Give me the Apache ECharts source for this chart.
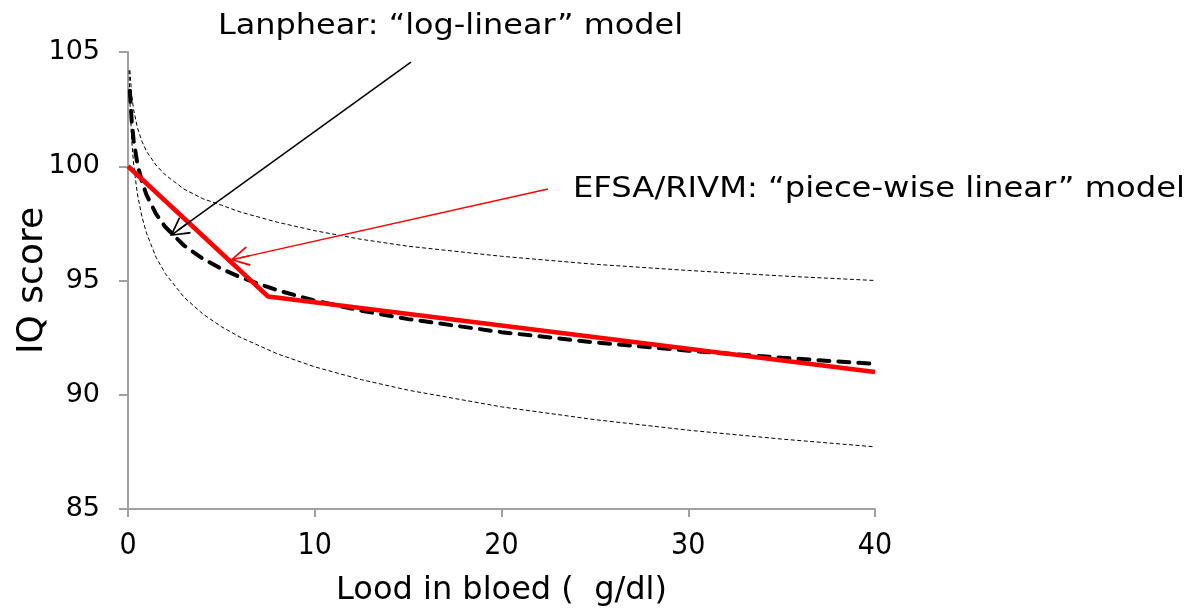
<!DOCTYPE html>
<html>
<head>
<meta charset="utf-8">
<script src="https://cdn.jsdelivr.net/npm/echarts@6/dist/echarts.min.js"></script>
<style>
  html, body { margin: 0; padding: 0; background: #fff; }
  #chart { width: 1201px; height: 610px; }
</style>
</head>
<body>
<div id="chart"></div>
<script>
// blood lead (ug/dl) sample points
const doseX = [0.06, 0.1, 0.2, 0.3, 0.5, 0.75, 1, 1.5, 2, 3, 4, 5, 6, 8, 10, 12.5, 15, 20, 25, 30, 35, 40]
const lanphearIQ = [null, 103.3, 101.95, 101.14, 100.12, 99.31, 98.73, 97.92, 97.34, 96.53, 95.96, 95.51, 95.15, 94.57, 94.12, 93.68, 93.31, 92.74, 92.29, 91.93, 91.62, 91.35]
const upperIQ = [null, 104.2, 103.1, 102.48, 101.7, 101.08, 100.64, 100.05, 99.62, 99.0, 98.58, 98.3, 98.0, 97.55, 97.18, 96.8, 96.5, 96.06, 95.71, 95.44, 95.2, 95.0]
const lowerIQ = [104.2, 102.88, 101.12, 100.1, 98.8, 97.78, 97.05, 96.02, 95.3, 94.27, 93.54, 92.98, 92.52, 91.79, 91.22, 90.66, 90.2, 89.47, 88.91, 88.45, 88.06, 87.72]

// EFSA/RIVM piece-wise linear model
const pieceX = [0, 7.5, 40]
const pieceIQ = [100, 94.3, 91.0]

const xTicks = [0, 40, 10]   // min, max, interval
const yTicks = [85, 105, 5]

// annotation arrows in data space: [from, to]
const lanArrow = [[15.15, 104.56], [2.68, 97.2]]
const efsaArrow = [[22.49, 99.0], [5.99, 95.99]]

const lanText = 'Lanphear: \u201clog-linear\u201d model'
const efsaText = 'EFSA/RIVM: \u201cpiece-wise linear\u201d model'

const mainFont = "'DejaVu Sans', Verdana, sans-serif"
const narrowFont = "'Liberation Sans Narrow', 'DejaVu Sans Condensed', 'Arial Narrow', sans-serif"

// open arrow head (chevron with a short stem), pointing up
const chevron = 'path://M50,0 L100,90 L93,96 L54,24 L54,100 L46,100 L46,24 L7,96 L0,90 Z'

function pairs(xs, ys) {
  const out = []
  xs.forEach((x, i) => {
    if (ys[i] != null) out.push([x, ys[i]])
  })
  return out
}

// stretch a text so it covers the same width as in the picture
function fitScale(text, font, target) {
  const ctx = document.createElement('canvas').getContext('2d')
  ctx.font = font
  return target / ctx.measureText(text).width
}

const lanFont = '28px ' + mainFont
const efsaFont = '28px ' + narrowFont

const chart = echarts.init(document.getElementById('chart'))

const thinLine = { color: '#000', width: 1, type: [4, 2.5] }
const arrowBlack = { color: '#000', width: 1.5, type: 'solid' }
const arrowRed = { color: '#ff0000', width: 1.5, type: 'solid' }

chart.setOption({
  animation: false,
  grid: { left: 128, right: 326, top: 52, bottom: 101, containLabel: false, outerBoundsMode: 'none' },
  xAxis: {
    type: 'value',
    min: xTicks[0],
    max: xTicks[1],
    interval: xTicks[2],
    name: 'Lood in bloed (  g/dl)',
    nameLocation: 'middle',
    nameGap: 66,
    nameMoveOverlap: false,
    nameTextStyle: { fontFamily: mainFont, fontSize: 32, color: '#000' },
    axisLine: { lineStyle: { color: '#a0a0a0', width: 2 } },
    axisTick: { length: 8, lineStyle: { color: '#a0a0a0', width: 2 } },
    axisLabel: { margin: 22, fontFamily: narrowFont, fontSize: 30, color: '#000' },
    splitLine: { show: false }
  },
  yAxis: {
    type: 'value',
    min: yTicks[0],
    max: yTicks[1],
    interval: yTicks[2],
    name: 'IQ score',
    nameLocation: 'middle',
    nameGap: 77,
    nameMoveOverlap: false,
    nameTextStyle: { fontFamily: mainFont, fontSize: 36, color: '#000' },
    axisLine: { show: true, lineStyle: { color: '#a0a0a0', width: 2 } },
    axisTick: { show: true, length: 9, lineStyle: { color: '#a0a0a0', width: 2 } },
    axisLabel: { margin: 28, fontFamily: mainFont, fontSize: 27, color: '#000' },
    splitLine: { show: false }
  },
  series: [
    {
      name: 'upper',
      type: 'line',
      data: pairs(doseX, upperIQ),
      symbol: 'none',
      silent: true,
      lineStyle: thinLine
    },
    {
      name: 'lower',
      type: 'line',
      data: pairs(doseX, lowerIQ),
      symbol: 'none',
      silent: true,
      lineStyle: thinLine
    },
    {
      name: 'Lanphear',
      type: 'line',
      data: pairs(doseX, lanphearIQ),
      symbol: 'none',
      silent: true,
      lineStyle: { color: '#000', width: 4, type: [11, 9], cap: 'round' }
    },
    {
      name: 'EFSA/RIVM',
      type: 'line',
      data: pairs(pieceX, pieceIQ),
      symbol: 'none',
      silent: true,
      z: 3,
      lineStyle: { color: '#ff0000', width: 4.5 },
      markLine: {
        silent: true,
        animation: false,
        symbol: ['none', chevron],
        symbolSize: 20,
        label: { show: false },
        emphasis: { disabled: true },
        data: [
          [
            { coord: lanArrow[0], lineStyle: arrowBlack },
            { coord: lanArrow[1], lineStyle: arrowBlack }
          ],
          [
            { coord: efsaArrow[0], lineStyle: arrowRed },
            { coord: efsaArrow[1], lineStyle: arrowRed }
          ]
        ]
      }
    }
  ],
  graphic: [
    {
      type: 'text',
      x: 218,
      y: 27,
      scaleX: fitScale(lanText, lanFont, 465),
      style: { text: lanText, font: lanFont, fill: '#000', textAlign: 'left', textVerticalAlign: 'middle' }
    },
    {
      type: 'text',
      x: 573,
      y: 190,
      scaleX: fitScale(efsaText, efsaFont, 612),
      style: { text: efsaText, font: efsaFont, fill: '#000', textAlign: 'left', textVerticalAlign: 'middle' }
    }
  ]
})
</script>
</body>
</html>
